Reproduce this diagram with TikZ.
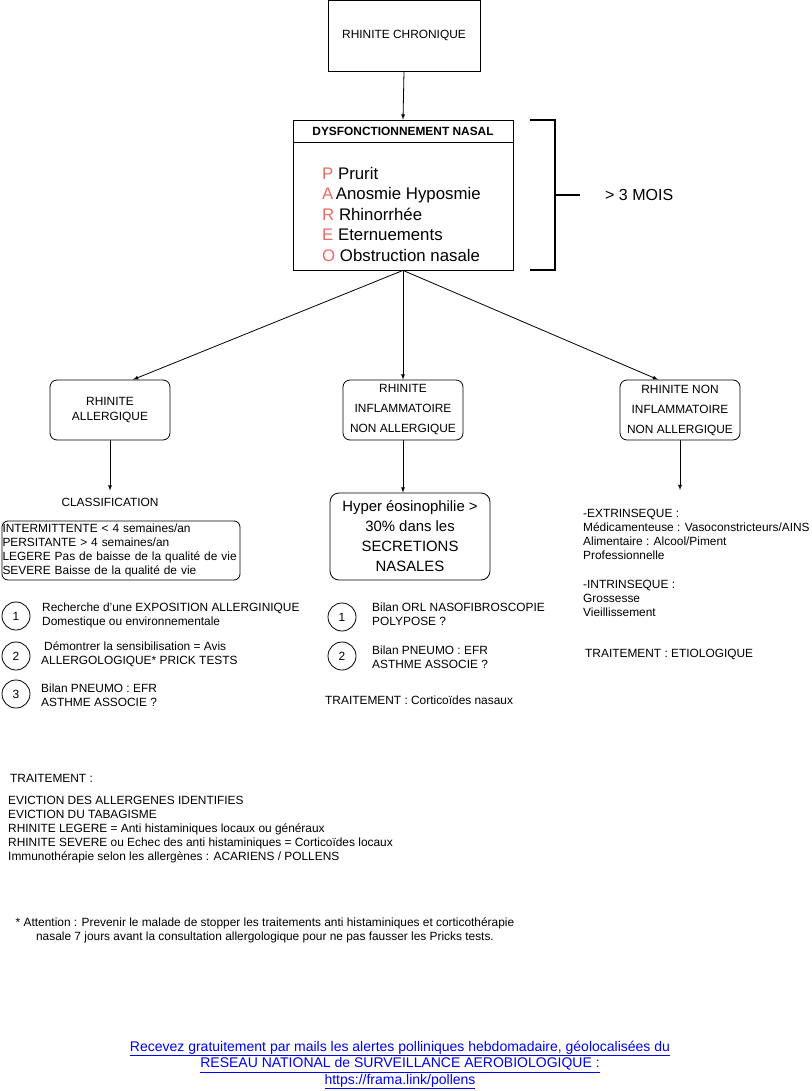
\documentclass[tikz,border=0pt]{standalone}
\usepackage{fontspec}
\setmainfont{Liberation Sans}
\usetikzlibrary{calc,arrows,positioning}

\definecolor{pareo}{HTML}{EA6B66}
\definecolor{linkblue}{HTML}{0000EE}
\newcommand{\pl}[1]{\textcolor{pareo}{#1}}

\begin{document}
\begin{tikzpicture}[x=1pt, y=-1pt, line/.style={>=latex},
    box/.style={draw, line width=0.8pt, inner sep=0pt, align=center},
    rbox/.style={box, rounded corners=7pt},
    small/.style={font=\fontsize{11.9}{14}\selectfont},
    txt/.style={small, align=left, inner sep=0pt, anchor=west},
    num/.style={draw, circle, line width=0.8pt, minimum size=28pt, inner sep=0pt, font=\fontsize{11.9}{13}\selectfont}]
        \useasboundingbox (0,0) rectangle (811,1091);

        % haut
        \node[box, small, minimum width=152pt, minimum height=71pt] (chron) at (404,35.5) {RHINITE CHRONIQUE};
        \node[box, minimum width=220pt, minimum height=150pt] (dysf) at (403,195) {};
        \node[font=\bfseries\fontsize{11.9}{13}\selectfont, inner sep=0pt] (titre) at (403,131.5) {DYSFONCTIONNEMENT NASAL};
        \draw[line width=0.8pt] ($(dysf.north west)+(0,23)$) -- ($(dysf.north east)+(0,23)$);
        \node[anchor=west, align=left, inner sep=0pt, font=\fontsize{16.8}{20.5}\selectfont] (pareo) at (322,214) {\pl{P} Prurit\\\pl{A}\kern2.5pt Anosmie Hyposmie\\\pl{R} Rhinorrhée\\\pl{E} Eternuements\\\pl{O} Obstruction nasale};
        \draw[->, line, line width=0.8pt] (chron.south) -- (dysf.north);

        % accolade
        \draw[line width=1.5pt] (530,120) -- (555,120) -- (555,270) -- (530,270);
        \draw[line width=1.5pt] (555,195) -- (580,195);
        \node[anchor=west, inner sep=0pt, font=\fontsize{16}{18}\selectfont] (mois) at (605,195) {> 3 MOIS};

        % trois rhinites
        \node[rbox, minimum width=120pt, minimum height=60pt, font=\fontsize{11.9}{15}\selectfont] (allerg) at (110,410) {RHINITE\\ALLERGIQUE};
        \node[rbox, minimum width=120pt, minimum height=60pt, font=\fontsize{11.9}{20}\selectfont] (inflam) at (403,410) {RHINITE\\INFLAMMATOIRE\\NON ALLERGIQUE};
        \node[rbox, minimum width=120pt, minimum height=60pt, font=\fontsize{11.9}{20}\selectfont] (noninflam) at (680,410) {RHINITE NON\\INFLAMMATOIRE\\NON ALLERGIQUE};
        \draw[->, line, line width=0.8pt] (dysf.south) -- ($(allerg.north)+(23,0)$);
        \draw[->, line, line width=0.8pt] (dysf.south) -- (inflam.north);
        \draw[->, line, line width=0.8pt] (dysf.south) -- ($(noninflam.north)+(-22,0)$);

        % allergique
        \node[small, inner sep=0pt] (classif) at (110,502) {CLASSIFICATION};
        \draw[->, line, line width=0.8pt] (allerg.south) -- ($(classif.north)+(0,-7)$);
        \node[rbox, rounded corners=6pt, small, minimum width=238pt, minimum height=59pt, text width=237pt, inner xsep=0.5pt, align=left] (classbox) at (121,550.5) {INTERMITTENTE < 4 semaines/an\\PERSITANTE > 4 semaines/an\\LEGERE Pas de baisse de la qualité de vie\\SEVERE Baisse de la qualité de vie};

        \node[num] (a1) at (16,616) {1};
        \node[num] (a2) at (16,656) {2};
        \node[num] (a3) at (16,694) {3};
        \node[txt] (t1) at (42,615.5) {Recherche d'une EXPOSITION ALLERGINIQUE\\Domestique ou environnementale};
        \node[txt] (t2) at (41,654.5) {\kern3pt Démontrer la sensibilisation = Avis\\ALLERGOLOGIQUE* PRICK TESTS};
        \node[txt] (t3) at (41,695) {Bilan PNEUMO : EFR\\ASTHME ASSOCIE ?};

        \node[txt] (traitA) at (10,778) {TRAITEMENT :};
        \node[txt, anchor=north west] (traitB) at (8,796) {EVICTION DES ALLERGENES IDENTIFIES\\EVICTION DU TABAGISME\\RHINITE LEGERE = Anti histaminiques locaux ou généraux\\RHINITE SEVERE ou Echec des anti histaminiques = Corticoïdes locaux\\Immunothérapie selon les allergènes : ACARIENS / POLLENS};

        % inflammatoire
        \node[rbox, rounded corners=9pt, minimum width=160pt, minimum height=87pt, font=\fontsize{14.9}{20}\selectfont] (hyper) at (410,536.5) {Hyper éosinophilie >\\30\% dans les\\SECRETIONS\\NASALES};
        \draw[->, line, line width=0.8pt] (inflam.south) -- (inflam.south |- hyper.north);
        \node[num] (b1) at (342,617) {1};
        \node[num] (b2) at (342,656) {2};
        \node[txt] (u1) at (372,614.5) {Bilan ORL NASOFIBROSCOPIE\\POLYPOSE ?};
        \node[txt] (u2) at (372,657.5) {Bilan PNEUMO : EFR\\ASTHME ASSOCIE ?};
        \node[txt] (traitC) at (325,700) {TRAITEMENT : Corticoïdes nasaux};

        % non inflammatoire
        \coordinate (extrfin) at (680,490);
        \draw[->, line, line width=0.8pt] (noninflam.south) -- (extrfin);
        \node[txt] (extr) at (583,534.5) {-EXTRINSEQUE :\\Médicamenteuse : Vasoconstricteurs/AINS\\Alimentaire : Alcool/Piment\\Professionnelle};
        \node[txt] (intr) at (583,598.5) {-INTRINSEQUE :\\Grossesse\\Vieillissement};
        \node[txt] (traitD) at (585,654) {TRAITEMENT : ETIOLOGIQUE};

        % bas
        \node[small, align=center, inner sep=0pt] (attention) at (265,930.5) {* Attention : Prevenir le malade de stopper les traitements anti histaminiques et corticothérapie\\nasale 7 jours avant la consultation allergologique pour ne pas fausser les Pricks tests.};
        \node[align=center, inner sep=0pt, text=linkblue, font=\fontsize{14}{16.5}\selectfont] (lien) at (400,1065) {\underline{Recevez gratuitement par mails les alertes polliniques hebdomadaire, géolocalisées du}\\\underline{RESEAU NATIONAL de SURVEILLANCE AEROBIOLOGIQUE :}\\\underline{https://frama.link/pollens}};
    \end{tikzpicture}
\end{document}
